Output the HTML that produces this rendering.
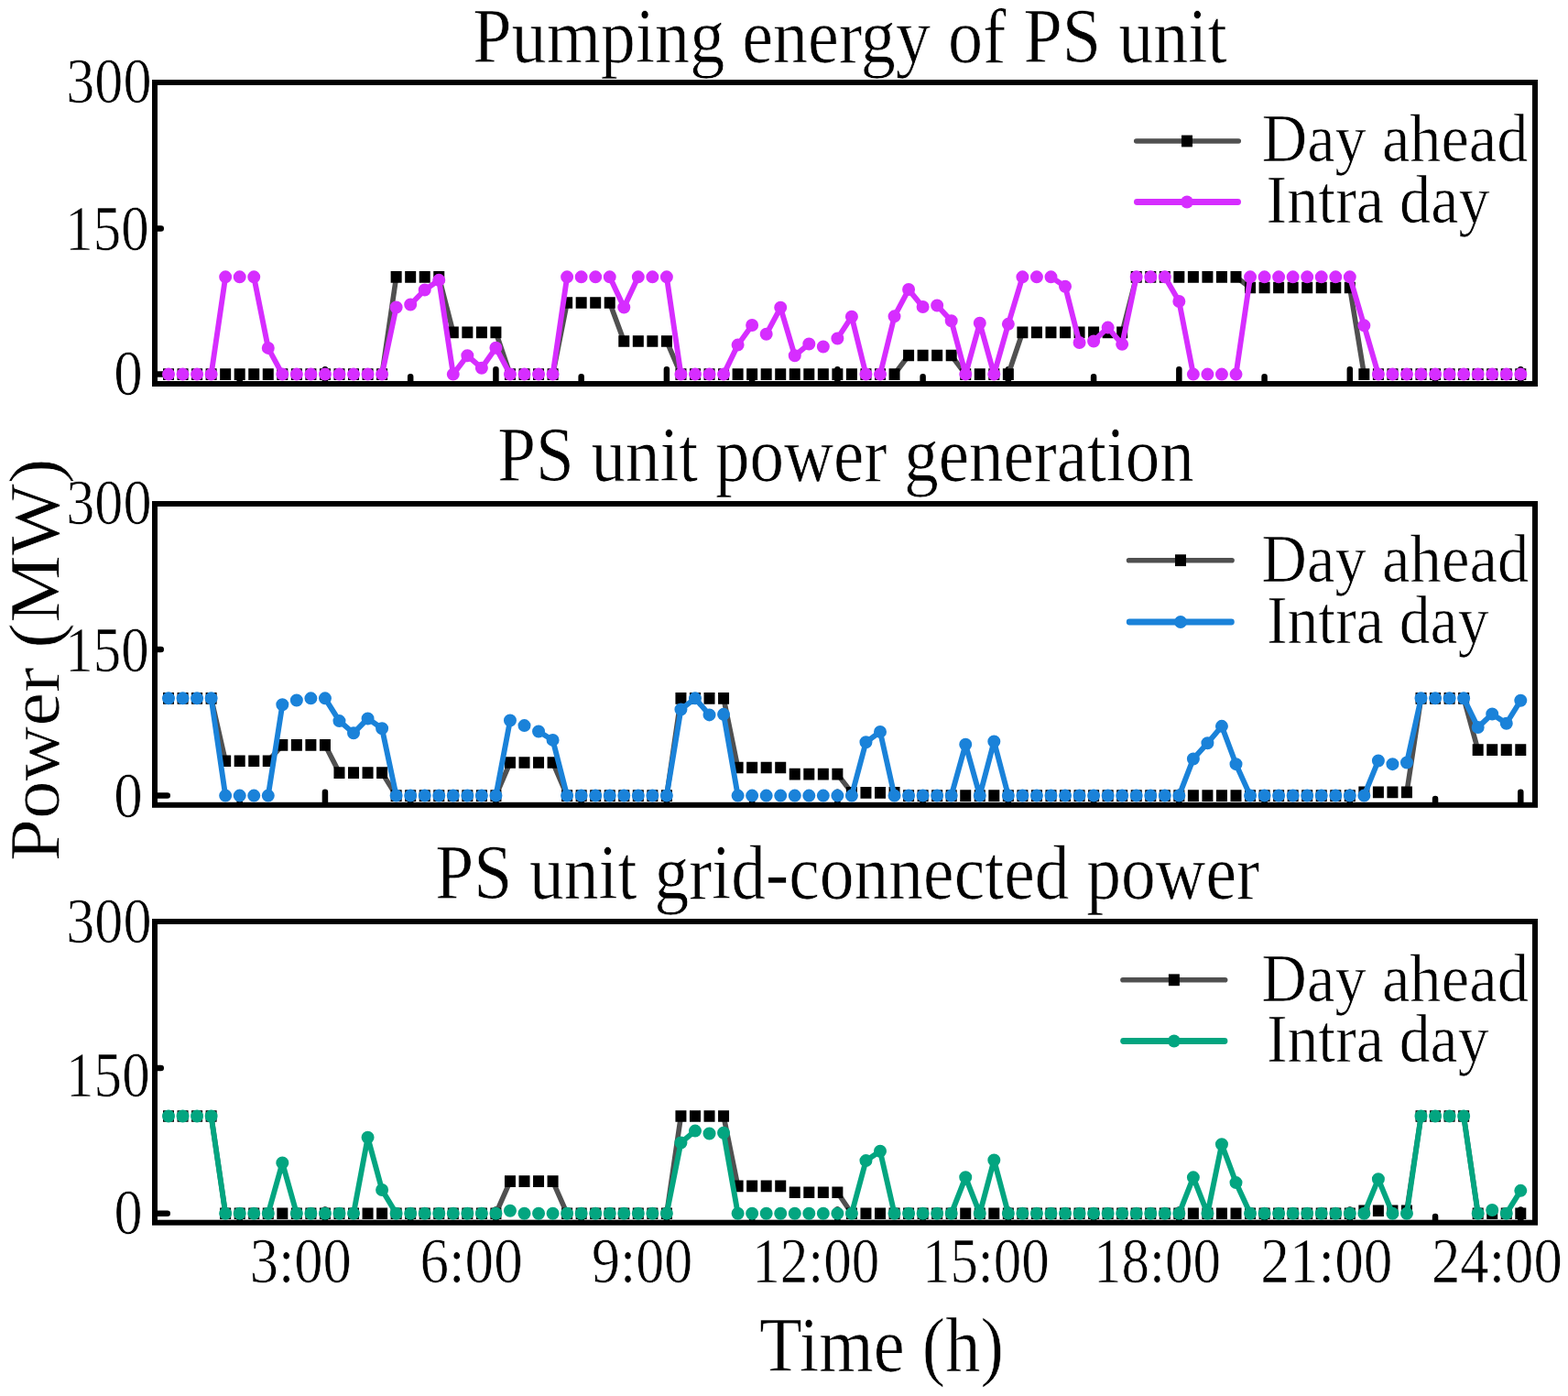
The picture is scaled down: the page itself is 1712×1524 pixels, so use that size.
<!DOCTYPE html>
<html><head><meta charset="utf-8"><title>PS unit power</title>
<style>html,body{margin:0;padding:0;background:#fff;}svg{display:block;}</style>
</head><body>
<svg width="1712" height="1524" viewBox="0 0 1712 1524">
<rect width="100%" height="100%" fill="#fff"/>
<style>text{stroke:#fff;stroke-width:0.7px;paint-order:fill stroke;}</style>
<g font-family="&quot;Liberation Serif&quot;, &quot;Times New Roman&quot;, serif" fill="#000">
<text transform="translate(516.22,67.80) scale(0.9065,1)" font-size="84">Pumping energy of PS unit</text>
<text transform="translate(72.27,112.35) scale(0.8881,1)" font-size="70">300</text>
<text transform="translate(71.29,273.25) scale(0.8702,1)" font-size="70">150</text>
<text transform="translate(124.26,431.35) scale(0.8996,1)" font-size="70">0</text>
<rect x="169" y="90" width="1507" height="329.00" fill="none" stroke="#000" stroke-width="6"/>
<path d="M170 408.60H182.75M170 249.40H175.75M261.70 416.00V411.25M354.94 416.00V403.25M448.18 416.00V411.25M541.42 416.00V403.25M634.66 416.00V411.25M727.90 416.00V403.25M821.14 416.00V411.25M914.38 416.00V403.25M1007.62 416.00V411.25M1100.86 416.00V403.25M1194.10 416.00V411.25M1287.34 416.00V403.25M1380.58 416.00V411.25M1473.82 416.00V403.25M1567.06 416.00V411.25M1660.30 416.00V403.25" stroke="#000" stroke-width="6.5" stroke-linecap="round" fill="none"/>
<path d="M417.10 408.60L432.64 302.33M479.26 302.33L494.80 362.90M541.42 362.90L556.96 408.60M603.58 408.60L619.12 330.49M665.74 330.49L681.28 372.47M727.90 372.47L743.44 408.60M976.54 408.60L992.08 387.98M1038.70 387.98L1054.24 408.60M1100.86 408.60L1116.40 362.90M1225.18 362.90L1240.72 302.33M1349.50 302.33L1365.04 314.02M1473.82 314.02L1489.36 408.60" stroke="#505050" stroke-width="5.6" fill="none"/>
<path d="M178.00 402.30h12.0v12.6h-12.0zM193.54 402.30h12.0v12.6h-12.0zM209.08 402.30h12.0v12.6h-12.0zM224.62 402.30h12.0v12.6h-12.0zM240.16 402.30h12.0v12.6h-12.0zM255.70 402.30h12.0v12.6h-12.0zM271.24 402.30h12.0v12.6h-12.0zM286.78 402.30h12.0v12.6h-12.0zM302.32 402.30h12.0v12.6h-12.0zM317.86 402.30h12.0v12.6h-12.0zM333.40 402.30h12.0v12.6h-12.0zM348.94 402.30h12.0v12.6h-12.0zM364.48 402.30h12.0v12.6h-12.0zM380.02 402.30h12.0v12.6h-12.0zM395.56 402.30h12.0v12.6h-12.0zM411.10 402.30h12.0v12.6h-12.0zM426.64 296.03h12.0v12.6h-12.0zM442.18 296.03h12.0v12.6h-12.0zM457.72 296.03h12.0v12.6h-12.0zM473.26 296.03h12.0v12.6h-12.0zM488.80 356.60h12.0v12.6h-12.0zM504.34 356.60h12.0v12.6h-12.0zM519.88 356.60h12.0v12.6h-12.0zM535.42 356.60h12.0v12.6h-12.0zM550.96 402.30h12.0v12.6h-12.0zM566.50 402.30h12.0v12.6h-12.0zM582.04 402.30h12.0v12.6h-12.0zM597.58 402.30h12.0v12.6h-12.0zM613.12 324.19h12.0v12.6h-12.0zM628.66 324.19h12.0v12.6h-12.0zM644.20 324.19h12.0v12.6h-12.0zM659.74 324.19h12.0v12.6h-12.0zM675.28 366.17h12.0v12.6h-12.0zM690.82 366.17h12.0v12.6h-12.0zM706.36 366.17h12.0v12.6h-12.0zM721.90 366.17h12.0v12.6h-12.0zM737.44 402.30h12.0v12.6h-12.0zM752.98 402.30h12.0v12.6h-12.0zM768.52 402.30h12.0v12.6h-12.0zM784.06 402.30h12.0v12.6h-12.0zM799.60 402.30h12.0v12.6h-12.0zM815.14 402.30h12.0v12.6h-12.0zM830.68 402.30h12.0v12.6h-12.0zM846.22 402.30h12.0v12.6h-12.0zM861.76 402.30h12.0v12.6h-12.0zM877.30 402.30h12.0v12.6h-12.0zM892.84 402.30h12.0v12.6h-12.0zM908.38 402.30h12.0v12.6h-12.0zM923.92 402.30h12.0v12.6h-12.0zM939.46 402.30h12.0v12.6h-12.0zM955.00 402.30h12.0v12.6h-12.0zM970.54 402.30h12.0v12.6h-12.0zM986.08 381.68h12.0v12.6h-12.0zM1001.62 381.68h12.0v12.6h-12.0zM1017.16 381.68h12.0v12.6h-12.0zM1032.70 381.68h12.0v12.6h-12.0zM1048.24 402.30h12.0v12.6h-12.0zM1063.78 402.30h12.0v12.6h-12.0zM1079.32 402.30h12.0v12.6h-12.0zM1094.86 402.30h12.0v12.6h-12.0zM1110.40 356.60h12.0v12.6h-12.0zM1125.94 356.60h12.0v12.6h-12.0zM1141.48 356.60h12.0v12.6h-12.0zM1157.02 356.60h12.0v12.6h-12.0zM1172.56 356.60h12.0v12.6h-12.0zM1188.10 356.60h12.0v12.6h-12.0zM1203.64 356.60h12.0v12.6h-12.0zM1219.18 356.60h12.0v12.6h-12.0zM1234.72 296.03h12.0v12.6h-12.0zM1250.26 296.03h12.0v12.6h-12.0zM1265.80 296.03h12.0v12.6h-12.0zM1281.34 296.03h12.0v12.6h-12.0zM1296.88 296.03h12.0v12.6h-12.0zM1312.42 296.03h12.0v12.6h-12.0zM1327.96 296.03h12.0v12.6h-12.0zM1343.50 296.03h12.0v12.6h-12.0zM1359.04 307.72h12.0v12.6h-12.0zM1374.58 307.72h12.0v12.6h-12.0zM1390.12 307.72h12.0v12.6h-12.0zM1405.66 307.72h12.0v12.6h-12.0zM1421.20 307.72h12.0v12.6h-12.0zM1436.74 307.72h12.0v12.6h-12.0zM1452.28 307.72h12.0v12.6h-12.0zM1467.82 307.72h12.0v12.6h-12.0zM1483.36 402.30h12.0v12.6h-12.0zM1498.90 402.30h12.0v12.6h-12.0zM1514.44 402.30h12.0v12.6h-12.0zM1529.98 402.30h12.0v12.6h-12.0zM1545.52 402.30h12.0v12.6h-12.0zM1561.06 402.30h12.0v12.6h-12.0zM1576.60 402.30h12.0v12.6h-12.0zM1592.14 402.30h12.0v12.6h-12.0zM1607.68 402.30h12.0v12.6h-12.0zM1623.22 402.30h12.0v12.6h-12.0zM1638.76 402.30h12.0v12.6h-12.0zM1654.30 402.30h12.0v12.6h-12.0z" fill="#000"/>
<path d="M230.62 408.60L246.16 302.33M277.24 302.33L292.78 379.91M292.78 379.91L308.32 408.60M417.10 408.60L432.64 335.49M448.18 332.51L463.72 316.46M463.72 316.46L479.26 305.84M479.26 305.84L494.80 408.60M494.80 408.60L510.34 388.30M510.34 388.30L525.88 401.69M525.88 401.69L541.42 379.69M541.42 379.69L556.96 408.60M603.58 408.60L619.12 302.33M665.74 302.33L681.28 335.49M681.28 335.49L696.82 302.33M727.90 302.33L743.44 408.60M790.06 408.60L805.60 376.61M805.60 376.61L821.14 354.93M836.68 364.82L852.22 335.81M852.22 335.81L867.76 388.30M867.76 388.30L883.30 375.55M914.38 369.49L929.92 345.69M929.92 345.69L945.46 408.60M961.00 408.60L976.54 345.37M976.54 345.37L992.08 316.04M992.08 316.04L1007.62 335.06M1023.16 333.57L1038.70 350.26M1038.70 350.26L1054.24 408.60M1054.24 408.60L1069.78 352.70M1069.78 352.70L1085.32 408.60M1085.32 408.60L1100.86 353.87M1100.86 353.87L1116.40 302.33M1147.48 302.33L1163.02 312.74M1163.02 312.74L1178.56 373.96M1194.10 372.47L1209.64 357.59M1209.64 357.59L1225.18 375.87M1225.18 375.87L1240.72 302.33M1271.80 302.33L1287.34 329.00M1287.34 329.00L1302.88 408.60M1349.50 408.60L1365.04 302.33M1473.82 302.33L1489.36 355.36M1489.36 355.36L1504.90 408.60" stroke="#D62DFF" stroke-width="5.9" fill="none"/>
<path d="M177.00 408.60a7.0 7.0 0 1 0 14.0 0a7.0 7.0 0 1 0 -14.0 0zM192.54 408.60a7.0 7.0 0 1 0 14.0 0a7.0 7.0 0 1 0 -14.0 0zM208.08 408.60a7.0 7.0 0 1 0 14.0 0a7.0 7.0 0 1 0 -14.0 0zM223.62 408.60a7.0 7.0 0 1 0 14.0 0a7.0 7.0 0 1 0 -14.0 0zM239.16 302.33a7.0 7.0 0 1 0 14.0 0a7.0 7.0 0 1 0 -14.0 0zM254.70 302.33a7.0 7.0 0 1 0 14.0 0a7.0 7.0 0 1 0 -14.0 0zM270.24 302.33a7.0 7.0 0 1 0 14.0 0a7.0 7.0 0 1 0 -14.0 0zM285.78 379.91a7.0 7.0 0 1 0 14.0 0a7.0 7.0 0 1 0 -14.0 0zM301.32 408.60a7.0 7.0 0 1 0 14.0 0a7.0 7.0 0 1 0 -14.0 0zM316.86 408.60a7.0 7.0 0 1 0 14.0 0a7.0 7.0 0 1 0 -14.0 0zM332.40 408.60a7.0 7.0 0 1 0 14.0 0a7.0 7.0 0 1 0 -14.0 0zM347.94 408.60a7.0 7.0 0 1 0 14.0 0a7.0 7.0 0 1 0 -14.0 0zM363.48 408.60a7.0 7.0 0 1 0 14.0 0a7.0 7.0 0 1 0 -14.0 0zM379.02 408.60a7.0 7.0 0 1 0 14.0 0a7.0 7.0 0 1 0 -14.0 0zM394.56 408.60a7.0 7.0 0 1 0 14.0 0a7.0 7.0 0 1 0 -14.0 0zM410.10 408.60a7.0 7.0 0 1 0 14.0 0a7.0 7.0 0 1 0 -14.0 0zM425.64 335.49a7.0 7.0 0 1 0 14.0 0a7.0 7.0 0 1 0 -14.0 0zM441.18 332.51a7.0 7.0 0 1 0 14.0 0a7.0 7.0 0 1 0 -14.0 0zM456.72 316.46a7.0 7.0 0 1 0 14.0 0a7.0 7.0 0 1 0 -14.0 0zM472.26 305.84a7.0 7.0 0 1 0 14.0 0a7.0 7.0 0 1 0 -14.0 0zM487.80 408.60a7.0 7.0 0 1 0 14.0 0a7.0 7.0 0 1 0 -14.0 0zM503.34 388.30a7.0 7.0 0 1 0 14.0 0a7.0 7.0 0 1 0 -14.0 0zM518.88 401.69a7.0 7.0 0 1 0 14.0 0a7.0 7.0 0 1 0 -14.0 0zM534.42 379.69a7.0 7.0 0 1 0 14.0 0a7.0 7.0 0 1 0 -14.0 0zM549.96 408.60a7.0 7.0 0 1 0 14.0 0a7.0 7.0 0 1 0 -14.0 0zM565.50 408.60a7.0 7.0 0 1 0 14.0 0a7.0 7.0 0 1 0 -14.0 0zM581.04 408.60a7.0 7.0 0 1 0 14.0 0a7.0 7.0 0 1 0 -14.0 0zM596.58 408.60a7.0 7.0 0 1 0 14.0 0a7.0 7.0 0 1 0 -14.0 0zM612.12 302.33a7.0 7.0 0 1 0 14.0 0a7.0 7.0 0 1 0 -14.0 0zM627.66 302.33a7.0 7.0 0 1 0 14.0 0a7.0 7.0 0 1 0 -14.0 0zM643.20 302.33a7.0 7.0 0 1 0 14.0 0a7.0 7.0 0 1 0 -14.0 0zM658.74 302.33a7.0 7.0 0 1 0 14.0 0a7.0 7.0 0 1 0 -14.0 0zM674.28 335.49a7.0 7.0 0 1 0 14.0 0a7.0 7.0 0 1 0 -14.0 0zM689.82 302.33a7.0 7.0 0 1 0 14.0 0a7.0 7.0 0 1 0 -14.0 0zM705.36 302.33a7.0 7.0 0 1 0 14.0 0a7.0 7.0 0 1 0 -14.0 0zM720.90 302.33a7.0 7.0 0 1 0 14.0 0a7.0 7.0 0 1 0 -14.0 0zM736.44 408.60a7.0 7.0 0 1 0 14.0 0a7.0 7.0 0 1 0 -14.0 0zM751.98 408.60a7.0 7.0 0 1 0 14.0 0a7.0 7.0 0 1 0 -14.0 0zM767.52 408.60a7.0 7.0 0 1 0 14.0 0a7.0 7.0 0 1 0 -14.0 0zM783.06 408.60a7.0 7.0 0 1 0 14.0 0a7.0 7.0 0 1 0 -14.0 0zM798.60 376.61a7.0 7.0 0 1 0 14.0 0a7.0 7.0 0 1 0 -14.0 0zM814.14 354.93a7.0 7.0 0 1 0 14.0 0a7.0 7.0 0 1 0 -14.0 0zM829.68 364.82a7.0 7.0 0 1 0 14.0 0a7.0 7.0 0 1 0 -14.0 0zM845.22 335.81a7.0 7.0 0 1 0 14.0 0a7.0 7.0 0 1 0 -14.0 0zM860.76 388.30a7.0 7.0 0 1 0 14.0 0a7.0 7.0 0 1 0 -14.0 0zM876.30 375.55a7.0 7.0 0 1 0 14.0 0a7.0 7.0 0 1 0 -14.0 0zM891.84 378.53a7.0 7.0 0 1 0 14.0 0a7.0 7.0 0 1 0 -14.0 0zM907.38 369.49a7.0 7.0 0 1 0 14.0 0a7.0 7.0 0 1 0 -14.0 0zM922.92 345.69a7.0 7.0 0 1 0 14.0 0a7.0 7.0 0 1 0 -14.0 0zM938.46 408.60a7.0 7.0 0 1 0 14.0 0a7.0 7.0 0 1 0 -14.0 0zM954.00 408.60a7.0 7.0 0 1 0 14.0 0a7.0 7.0 0 1 0 -14.0 0zM969.54 345.37a7.0 7.0 0 1 0 14.0 0a7.0 7.0 0 1 0 -14.0 0zM985.08 316.04a7.0 7.0 0 1 0 14.0 0a7.0 7.0 0 1 0 -14.0 0zM1000.62 335.06a7.0 7.0 0 1 0 14.0 0a7.0 7.0 0 1 0 -14.0 0zM1016.16 333.57a7.0 7.0 0 1 0 14.0 0a7.0 7.0 0 1 0 -14.0 0zM1031.70 350.26a7.0 7.0 0 1 0 14.0 0a7.0 7.0 0 1 0 -14.0 0zM1047.24 408.60a7.0 7.0 0 1 0 14.0 0a7.0 7.0 0 1 0 -14.0 0zM1062.78 352.70a7.0 7.0 0 1 0 14.0 0a7.0 7.0 0 1 0 -14.0 0zM1078.32 408.60a7.0 7.0 0 1 0 14.0 0a7.0 7.0 0 1 0 -14.0 0zM1093.86 353.87a7.0 7.0 0 1 0 14.0 0a7.0 7.0 0 1 0 -14.0 0zM1109.40 302.33a7.0 7.0 0 1 0 14.0 0a7.0 7.0 0 1 0 -14.0 0zM1124.94 302.33a7.0 7.0 0 1 0 14.0 0a7.0 7.0 0 1 0 -14.0 0zM1140.48 302.33a7.0 7.0 0 1 0 14.0 0a7.0 7.0 0 1 0 -14.0 0zM1156.02 312.74a7.0 7.0 0 1 0 14.0 0a7.0 7.0 0 1 0 -14.0 0zM1171.56 373.96a7.0 7.0 0 1 0 14.0 0a7.0 7.0 0 1 0 -14.0 0zM1187.10 372.47a7.0 7.0 0 1 0 14.0 0a7.0 7.0 0 1 0 -14.0 0zM1202.64 357.59a7.0 7.0 0 1 0 14.0 0a7.0 7.0 0 1 0 -14.0 0zM1218.18 375.87a7.0 7.0 0 1 0 14.0 0a7.0 7.0 0 1 0 -14.0 0zM1233.72 302.33a7.0 7.0 0 1 0 14.0 0a7.0 7.0 0 1 0 -14.0 0zM1249.26 302.33a7.0 7.0 0 1 0 14.0 0a7.0 7.0 0 1 0 -14.0 0zM1264.80 302.33a7.0 7.0 0 1 0 14.0 0a7.0 7.0 0 1 0 -14.0 0zM1280.34 329.00a7.0 7.0 0 1 0 14.0 0a7.0 7.0 0 1 0 -14.0 0zM1295.88 408.60a7.0 7.0 0 1 0 14.0 0a7.0 7.0 0 1 0 -14.0 0zM1311.42 408.60a7.0 7.0 0 1 0 14.0 0a7.0 7.0 0 1 0 -14.0 0zM1326.96 408.60a7.0 7.0 0 1 0 14.0 0a7.0 7.0 0 1 0 -14.0 0zM1342.50 408.60a7.0 7.0 0 1 0 14.0 0a7.0 7.0 0 1 0 -14.0 0zM1358.04 302.33a7.0 7.0 0 1 0 14.0 0a7.0 7.0 0 1 0 -14.0 0zM1373.58 302.33a7.0 7.0 0 1 0 14.0 0a7.0 7.0 0 1 0 -14.0 0zM1389.12 302.33a7.0 7.0 0 1 0 14.0 0a7.0 7.0 0 1 0 -14.0 0zM1404.66 302.33a7.0 7.0 0 1 0 14.0 0a7.0 7.0 0 1 0 -14.0 0zM1420.20 302.33a7.0 7.0 0 1 0 14.0 0a7.0 7.0 0 1 0 -14.0 0zM1435.74 302.33a7.0 7.0 0 1 0 14.0 0a7.0 7.0 0 1 0 -14.0 0zM1451.28 302.33a7.0 7.0 0 1 0 14.0 0a7.0 7.0 0 1 0 -14.0 0zM1466.82 302.33a7.0 7.0 0 1 0 14.0 0a7.0 7.0 0 1 0 -14.0 0zM1482.36 355.36a7.0 7.0 0 1 0 14.0 0a7.0 7.0 0 1 0 -14.0 0zM1497.90 408.60a7.0 7.0 0 1 0 14.0 0a7.0 7.0 0 1 0 -14.0 0zM1513.44 408.60a7.0 7.0 0 1 0 14.0 0a7.0 7.0 0 1 0 -14.0 0zM1528.98 408.60a7.0 7.0 0 1 0 14.0 0a7.0 7.0 0 1 0 -14.0 0zM1544.52 408.60a7.0 7.0 0 1 0 14.0 0a7.0 7.0 0 1 0 -14.0 0zM1560.06 408.60a7.0 7.0 0 1 0 14.0 0a7.0 7.0 0 1 0 -14.0 0zM1575.60 408.60a7.0 7.0 0 1 0 14.0 0a7.0 7.0 0 1 0 -14.0 0zM1591.14 408.60a7.0 7.0 0 1 0 14.0 0a7.0 7.0 0 1 0 -14.0 0zM1606.68 408.60a7.0 7.0 0 1 0 14.0 0a7.0 7.0 0 1 0 -14.0 0zM1622.22 408.60a7.0 7.0 0 1 0 14.0 0a7.0 7.0 0 1 0 -14.0 0zM1637.76 408.60a7.0 7.0 0 1 0 14.0 0a7.0 7.0 0 1 0 -14.0 0zM1653.30 408.60a7.0 7.0 0 1 0 14.0 0a7.0 7.0 0 1 0 -14.0 0z" fill="#D62DFF"/>
<path d="M1240.75 154H1352.25" stroke="#505050" stroke-width="5.6" stroke-linecap="round"/>
<rect x="1290.00" y="147.60" width="12" height="12.8" fill="#000"/>
<path d="M1241.40 220.5H1351.60" stroke="#D62DFF" stroke-width="6.8" stroke-linecap="round"/>
<circle cx="1296.00" cy="220.5" r="6.9" fill="#D62DFF"/>
<text transform="translate(1377.73,175.90) scale(0.9379,1)" font-size="73">Day ahead</text>
<text transform="translate(1382.50,243.00) scale(0.9332,1)" font-size="73">Intra day</text>
<text transform="translate(543.25,524.80) scale(0.8934,1)" font-size="84">PS unit power generation</text>
<text transform="translate(72.27,572.35) scale(0.8881,1)" font-size="70">300</text>
<text transform="translate(71.29,732.55) scale(0.8702,1)" font-size="70">150</text>
<text transform="translate(124.26,891.65) scale(0.8996,1)" font-size="70">0</text>
<rect x="169" y="550" width="1507" height="328.80" fill="none" stroke="#000" stroke-width="6"/>
<path d="M170 868.60H182.75M170 709.00H175.75M261.70 875.80V872.05M354.94 875.80V864.65M448.18 875.80V872.05M541.42 875.80V864.65M634.66 875.80V872.05M727.90 875.80V864.65M821.14 875.80V872.05M914.38 875.80V864.65M1007.62 875.80V872.05M1100.86 875.80V864.65M1194.10 875.80V872.05M1287.34 875.80V864.65M1380.58 875.80V872.05M1473.82 875.80V864.65M1567.06 875.80V872.05M1660.30 875.80V864.65" stroke="#000" stroke-width="6.5" stroke-linecap="round" fill="none"/>
<path d="M230.62 762.33L246.16 830.77M292.78 830.77L308.32 813.34M354.94 813.34L370.48 843.63M417.10 843.63L432.64 868.60M541.42 868.60L556.96 832.47M603.58 832.47L619.12 868.60M727.90 868.60L743.44 762.33M790.06 762.33L805.60 837.99M914.38 845.11L929.92 865.41M1535.98 864.88L1551.52 762.33M1598.14 762.33L1613.68 818.65" stroke="#505050" stroke-width="5.6" fill="none"/>
<path d="M178.00 756.03h12.0v12.6h-12.0zM193.54 756.03h12.0v12.6h-12.0zM209.08 756.03h12.0v12.6h-12.0zM224.62 756.03h12.0v12.6h-12.0zM240.16 824.47h12.0v12.6h-12.0zM255.70 824.47h12.0v12.6h-12.0zM271.24 824.47h12.0v12.6h-12.0zM286.78 824.47h12.0v12.6h-12.0zM302.32 807.04h12.0v12.6h-12.0zM317.86 807.04h12.0v12.6h-12.0zM333.40 807.04h12.0v12.6h-12.0zM348.94 807.04h12.0v12.6h-12.0zM364.48 837.33h12.0v12.6h-12.0zM380.02 837.33h12.0v12.6h-12.0zM395.56 837.33h12.0v12.6h-12.0zM411.10 837.33h12.0v12.6h-12.0zM426.64 862.30h12.0v12.6h-12.0zM442.18 862.30h12.0v12.6h-12.0zM457.72 862.30h12.0v12.6h-12.0zM473.26 862.30h12.0v12.6h-12.0zM488.80 862.30h12.0v12.6h-12.0zM504.34 862.30h12.0v12.6h-12.0zM519.88 862.30h12.0v12.6h-12.0zM535.42 862.30h12.0v12.6h-12.0zM550.96 826.17h12.0v12.6h-12.0zM566.50 826.17h12.0v12.6h-12.0zM582.04 826.17h12.0v12.6h-12.0zM597.58 826.17h12.0v12.6h-12.0zM613.12 862.30h12.0v12.6h-12.0zM628.66 862.30h12.0v12.6h-12.0zM644.20 862.30h12.0v12.6h-12.0zM659.74 862.30h12.0v12.6h-12.0zM675.28 862.30h12.0v12.6h-12.0zM690.82 862.30h12.0v12.6h-12.0zM706.36 862.30h12.0v12.6h-12.0zM721.90 862.30h12.0v12.6h-12.0zM737.44 756.03h12.0v12.6h-12.0zM752.98 756.03h12.0v12.6h-12.0zM768.52 756.03h12.0v12.6h-12.0zM784.06 756.03h12.0v12.6h-12.0zM799.60 831.69h12.0v12.6h-12.0zM815.14 831.69h12.0v12.6h-12.0zM830.68 831.69h12.0v12.6h-12.0zM846.22 831.69h12.0v12.6h-12.0zM861.76 838.81h12.0v12.6h-12.0zM877.30 838.81h12.0v12.6h-12.0zM892.84 838.81h12.0v12.6h-12.0zM908.38 838.81h12.0v12.6h-12.0zM923.92 859.11h12.0v12.6h-12.0zM939.46 859.11h12.0v12.6h-12.0zM955.00 859.11h12.0v12.6h-12.0zM970.54 859.11h12.0v12.6h-12.0zM986.08 862.30h12.0v12.6h-12.0zM1001.62 862.30h12.0v12.6h-12.0zM1017.16 862.30h12.0v12.6h-12.0zM1032.70 862.30h12.0v12.6h-12.0zM1048.24 862.30h12.0v12.6h-12.0zM1063.78 862.30h12.0v12.6h-12.0zM1079.32 862.30h12.0v12.6h-12.0zM1094.86 862.30h12.0v12.6h-12.0zM1110.40 862.30h12.0v12.6h-12.0zM1125.94 862.30h12.0v12.6h-12.0zM1141.48 862.30h12.0v12.6h-12.0zM1157.02 862.30h12.0v12.6h-12.0zM1172.56 862.30h12.0v12.6h-12.0zM1188.10 862.30h12.0v12.6h-12.0zM1203.64 862.30h12.0v12.6h-12.0zM1219.18 862.30h12.0v12.6h-12.0zM1234.72 862.30h12.0v12.6h-12.0zM1250.26 862.30h12.0v12.6h-12.0zM1265.80 862.30h12.0v12.6h-12.0zM1281.34 862.30h12.0v12.6h-12.0zM1296.88 862.30h12.0v12.6h-12.0zM1312.42 862.30h12.0v12.6h-12.0zM1327.96 862.30h12.0v12.6h-12.0zM1343.50 862.30h12.0v12.6h-12.0zM1359.04 862.30h12.0v12.6h-12.0zM1374.58 862.30h12.0v12.6h-12.0zM1390.12 862.30h12.0v12.6h-12.0zM1405.66 862.30h12.0v12.6h-12.0zM1421.20 862.30h12.0v12.6h-12.0zM1436.74 862.30h12.0v12.6h-12.0zM1452.28 862.30h12.0v12.6h-12.0zM1467.82 862.30h12.0v12.6h-12.0zM1483.36 858.58h12.0v12.6h-12.0zM1498.90 858.58h12.0v12.6h-12.0zM1514.44 858.58h12.0v12.6h-12.0zM1529.98 858.58h12.0v12.6h-12.0zM1545.52 756.03h12.0v12.6h-12.0zM1561.06 756.03h12.0v12.6h-12.0zM1576.60 756.03h12.0v12.6h-12.0zM1592.14 756.03h12.0v12.6h-12.0zM1607.68 812.35h12.0v12.6h-12.0zM1623.22 812.35h12.0v12.6h-12.0zM1638.76 812.35h12.0v12.6h-12.0zM1654.30 812.35h12.0v12.6h-12.0z" fill="#000"/>
<path d="M230.62 762.33L246.16 868.60M292.78 868.60L308.32 769.24M354.94 762.33L370.48 787.09M370.48 787.09L386.02 800.37M386.02 800.37L401.56 784.43M401.56 784.43L417.10 795.27M417.10 795.27L432.64 868.60M541.42 868.60L556.96 786.45M588.04 798.57L603.58 807.92M603.58 807.92L619.12 868.60M727.90 868.60L743.44 774.55M743.44 774.55L758.98 762.33M758.98 762.33L774.52 780.40M790.06 779.86L805.60 868.60M929.92 868.60L945.46 810.26M945.46 810.26L961.00 798.89M961.00 798.89L976.54 868.60M1038.70 868.60L1054.24 812.81M1054.24 812.81L1069.78 868.60M1069.78 868.60L1085.32 809.51M1085.32 809.51L1100.86 868.60M1287.34 868.60L1302.88 828.43M1302.88 828.43L1318.42 811.32M1318.42 811.32L1333.96 792.83M1333.96 792.83L1349.50 834.17M1349.50 834.17L1365.04 868.60M1489.36 868.60L1504.90 830.45M1535.98 832.57L1551.52 762.33M1598.14 762.33L1613.68 794.00M1613.68 794.00L1629.22 779.44M1629.22 779.44L1644.76 789.75M1644.76 789.75L1660.30 764.77" stroke="#1A82D9" stroke-width="5.9" fill="none"/>
<path d="M177.00 762.33a7.0 7.0 0 1 0 14.0 0a7.0 7.0 0 1 0 -14.0 0zM192.54 762.33a7.0 7.0 0 1 0 14.0 0a7.0 7.0 0 1 0 -14.0 0zM208.08 762.33a7.0 7.0 0 1 0 14.0 0a7.0 7.0 0 1 0 -14.0 0zM223.62 762.33a7.0 7.0 0 1 0 14.0 0a7.0 7.0 0 1 0 -14.0 0zM239.16 868.60a7.0 7.0 0 1 0 14.0 0a7.0 7.0 0 1 0 -14.0 0zM254.70 868.60a7.0 7.0 0 1 0 14.0 0a7.0 7.0 0 1 0 -14.0 0zM270.24 868.60a7.0 7.0 0 1 0 14.0 0a7.0 7.0 0 1 0 -14.0 0zM285.78 868.60a7.0 7.0 0 1 0 14.0 0a7.0 7.0 0 1 0 -14.0 0zM301.32 769.24a7.0 7.0 0 1 0 14.0 0a7.0 7.0 0 1 0 -14.0 0zM316.86 764.46a7.0 7.0 0 1 0 14.0 0a7.0 7.0 0 1 0 -14.0 0zM332.40 762.33a7.0 7.0 0 1 0 14.0 0a7.0 7.0 0 1 0 -14.0 0zM347.94 762.33a7.0 7.0 0 1 0 14.0 0a7.0 7.0 0 1 0 -14.0 0zM363.48 787.09a7.0 7.0 0 1 0 14.0 0a7.0 7.0 0 1 0 -14.0 0zM379.02 800.37a7.0 7.0 0 1 0 14.0 0a7.0 7.0 0 1 0 -14.0 0zM394.56 784.43a7.0 7.0 0 1 0 14.0 0a7.0 7.0 0 1 0 -14.0 0zM410.10 795.27a7.0 7.0 0 1 0 14.0 0a7.0 7.0 0 1 0 -14.0 0zM425.64 868.60a7.0 7.0 0 1 0 14.0 0a7.0 7.0 0 1 0 -14.0 0zM441.18 868.60a7.0 7.0 0 1 0 14.0 0a7.0 7.0 0 1 0 -14.0 0zM456.72 868.60a7.0 7.0 0 1 0 14.0 0a7.0 7.0 0 1 0 -14.0 0zM472.26 868.60a7.0 7.0 0 1 0 14.0 0a7.0 7.0 0 1 0 -14.0 0zM487.80 868.60a7.0 7.0 0 1 0 14.0 0a7.0 7.0 0 1 0 -14.0 0zM503.34 868.60a7.0 7.0 0 1 0 14.0 0a7.0 7.0 0 1 0 -14.0 0zM518.88 868.60a7.0 7.0 0 1 0 14.0 0a7.0 7.0 0 1 0 -14.0 0zM534.42 868.60a7.0 7.0 0 1 0 14.0 0a7.0 7.0 0 1 0 -14.0 0zM549.96 786.45a7.0 7.0 0 1 0 14.0 0a7.0 7.0 0 1 0 -14.0 0zM565.50 792.09a7.0 7.0 0 1 0 14.0 0a7.0 7.0 0 1 0 -14.0 0zM581.04 798.57a7.0 7.0 0 1 0 14.0 0a7.0 7.0 0 1 0 -14.0 0zM596.58 807.92a7.0 7.0 0 1 0 14.0 0a7.0 7.0 0 1 0 -14.0 0zM612.12 868.60a7.0 7.0 0 1 0 14.0 0a7.0 7.0 0 1 0 -14.0 0zM627.66 868.60a7.0 7.0 0 1 0 14.0 0a7.0 7.0 0 1 0 -14.0 0zM643.20 868.60a7.0 7.0 0 1 0 14.0 0a7.0 7.0 0 1 0 -14.0 0zM658.74 868.60a7.0 7.0 0 1 0 14.0 0a7.0 7.0 0 1 0 -14.0 0zM674.28 868.60a7.0 7.0 0 1 0 14.0 0a7.0 7.0 0 1 0 -14.0 0zM689.82 868.60a7.0 7.0 0 1 0 14.0 0a7.0 7.0 0 1 0 -14.0 0zM705.36 868.60a7.0 7.0 0 1 0 14.0 0a7.0 7.0 0 1 0 -14.0 0zM720.90 868.60a7.0 7.0 0 1 0 14.0 0a7.0 7.0 0 1 0 -14.0 0zM736.44 774.55a7.0 7.0 0 1 0 14.0 0a7.0 7.0 0 1 0 -14.0 0zM751.98 762.33a7.0 7.0 0 1 0 14.0 0a7.0 7.0 0 1 0 -14.0 0zM767.52 780.40a7.0 7.0 0 1 0 14.0 0a7.0 7.0 0 1 0 -14.0 0zM783.06 779.86a7.0 7.0 0 1 0 14.0 0a7.0 7.0 0 1 0 -14.0 0zM798.60 868.60a7.0 7.0 0 1 0 14.0 0a7.0 7.0 0 1 0 -14.0 0zM814.14 868.60a7.0 7.0 0 1 0 14.0 0a7.0 7.0 0 1 0 -14.0 0zM829.68 868.60a7.0 7.0 0 1 0 14.0 0a7.0 7.0 0 1 0 -14.0 0zM845.22 868.60a7.0 7.0 0 1 0 14.0 0a7.0 7.0 0 1 0 -14.0 0zM860.76 868.60a7.0 7.0 0 1 0 14.0 0a7.0 7.0 0 1 0 -14.0 0zM876.30 868.60a7.0 7.0 0 1 0 14.0 0a7.0 7.0 0 1 0 -14.0 0zM891.84 868.60a7.0 7.0 0 1 0 14.0 0a7.0 7.0 0 1 0 -14.0 0zM907.38 868.60a7.0 7.0 0 1 0 14.0 0a7.0 7.0 0 1 0 -14.0 0zM922.92 868.60a7.0 7.0 0 1 0 14.0 0a7.0 7.0 0 1 0 -14.0 0zM938.46 810.26a7.0 7.0 0 1 0 14.0 0a7.0 7.0 0 1 0 -14.0 0zM954.00 798.89a7.0 7.0 0 1 0 14.0 0a7.0 7.0 0 1 0 -14.0 0zM969.54 868.60a7.0 7.0 0 1 0 14.0 0a7.0 7.0 0 1 0 -14.0 0zM985.08 868.60a7.0 7.0 0 1 0 14.0 0a7.0 7.0 0 1 0 -14.0 0zM1000.62 868.60a7.0 7.0 0 1 0 14.0 0a7.0 7.0 0 1 0 -14.0 0zM1016.16 868.60a7.0 7.0 0 1 0 14.0 0a7.0 7.0 0 1 0 -14.0 0zM1031.70 868.60a7.0 7.0 0 1 0 14.0 0a7.0 7.0 0 1 0 -14.0 0zM1047.24 812.81a7.0 7.0 0 1 0 14.0 0a7.0 7.0 0 1 0 -14.0 0zM1062.78 868.60a7.0 7.0 0 1 0 14.0 0a7.0 7.0 0 1 0 -14.0 0zM1078.32 809.51a7.0 7.0 0 1 0 14.0 0a7.0 7.0 0 1 0 -14.0 0zM1093.86 868.60a7.0 7.0 0 1 0 14.0 0a7.0 7.0 0 1 0 -14.0 0zM1109.40 868.60a7.0 7.0 0 1 0 14.0 0a7.0 7.0 0 1 0 -14.0 0zM1124.94 868.60a7.0 7.0 0 1 0 14.0 0a7.0 7.0 0 1 0 -14.0 0zM1140.48 868.60a7.0 7.0 0 1 0 14.0 0a7.0 7.0 0 1 0 -14.0 0zM1156.02 868.60a7.0 7.0 0 1 0 14.0 0a7.0 7.0 0 1 0 -14.0 0zM1171.56 868.60a7.0 7.0 0 1 0 14.0 0a7.0 7.0 0 1 0 -14.0 0zM1187.10 868.60a7.0 7.0 0 1 0 14.0 0a7.0 7.0 0 1 0 -14.0 0zM1202.64 868.60a7.0 7.0 0 1 0 14.0 0a7.0 7.0 0 1 0 -14.0 0zM1218.18 868.60a7.0 7.0 0 1 0 14.0 0a7.0 7.0 0 1 0 -14.0 0zM1233.72 868.60a7.0 7.0 0 1 0 14.0 0a7.0 7.0 0 1 0 -14.0 0zM1249.26 868.60a7.0 7.0 0 1 0 14.0 0a7.0 7.0 0 1 0 -14.0 0zM1264.80 868.60a7.0 7.0 0 1 0 14.0 0a7.0 7.0 0 1 0 -14.0 0zM1280.34 868.60a7.0 7.0 0 1 0 14.0 0a7.0 7.0 0 1 0 -14.0 0zM1295.88 828.43a7.0 7.0 0 1 0 14.0 0a7.0 7.0 0 1 0 -14.0 0zM1311.42 811.32a7.0 7.0 0 1 0 14.0 0a7.0 7.0 0 1 0 -14.0 0zM1326.96 792.83a7.0 7.0 0 1 0 14.0 0a7.0 7.0 0 1 0 -14.0 0zM1342.50 834.17a7.0 7.0 0 1 0 14.0 0a7.0 7.0 0 1 0 -14.0 0zM1358.04 868.60a7.0 7.0 0 1 0 14.0 0a7.0 7.0 0 1 0 -14.0 0zM1373.58 868.60a7.0 7.0 0 1 0 14.0 0a7.0 7.0 0 1 0 -14.0 0zM1389.12 868.60a7.0 7.0 0 1 0 14.0 0a7.0 7.0 0 1 0 -14.0 0zM1404.66 868.60a7.0 7.0 0 1 0 14.0 0a7.0 7.0 0 1 0 -14.0 0zM1420.20 868.60a7.0 7.0 0 1 0 14.0 0a7.0 7.0 0 1 0 -14.0 0zM1435.74 868.60a7.0 7.0 0 1 0 14.0 0a7.0 7.0 0 1 0 -14.0 0zM1451.28 868.60a7.0 7.0 0 1 0 14.0 0a7.0 7.0 0 1 0 -14.0 0zM1466.82 868.60a7.0 7.0 0 1 0 14.0 0a7.0 7.0 0 1 0 -14.0 0zM1482.36 868.60a7.0 7.0 0 1 0 14.0 0a7.0 7.0 0 1 0 -14.0 0zM1497.90 830.45a7.0 7.0 0 1 0 14.0 0a7.0 7.0 0 1 0 -14.0 0zM1513.44 834.17a7.0 7.0 0 1 0 14.0 0a7.0 7.0 0 1 0 -14.0 0zM1528.98 832.57a7.0 7.0 0 1 0 14.0 0a7.0 7.0 0 1 0 -14.0 0zM1544.52 762.33a7.0 7.0 0 1 0 14.0 0a7.0 7.0 0 1 0 -14.0 0zM1560.06 762.33a7.0 7.0 0 1 0 14.0 0a7.0 7.0 0 1 0 -14.0 0zM1575.60 762.33a7.0 7.0 0 1 0 14.0 0a7.0 7.0 0 1 0 -14.0 0zM1591.14 762.33a7.0 7.0 0 1 0 14.0 0a7.0 7.0 0 1 0 -14.0 0zM1606.68 794.00a7.0 7.0 0 1 0 14.0 0a7.0 7.0 0 1 0 -14.0 0zM1622.22 779.44a7.0 7.0 0 1 0 14.0 0a7.0 7.0 0 1 0 -14.0 0zM1637.76 789.75a7.0 7.0 0 1 0 14.0 0a7.0 7.0 0 1 0 -14.0 0zM1653.30 764.77a7.0 7.0 0 1 0 14.0 0a7.0 7.0 0 1 0 -14.0 0z" fill="#1A82D9"/>
<path d="M1232.55 611.7H1345.05" stroke="#505050" stroke-width="5.6" stroke-linecap="round"/>
<rect x="1283.00" y="605.30" width="12" height="12.8" fill="#000"/>
<path d="M1233.20 679H1344.40" stroke="#1A82D9" stroke-width="6.8" stroke-linecap="round"/>
<circle cx="1289.00" cy="679" r="6.9" fill="#1A82D9"/>
<text transform="translate(1377.32,635.10) scale(0.9424,1)" font-size="73">Day ahead</text>
<text transform="translate(1382.91,701.80) scale(0.9282,1)" font-size="73">Intra day</text>
<text transform="translate(475.13,981.40) scale(0.8994,1)" font-size="84">PS unit grid-connected power</text>
<text transform="translate(72.27,1029.45) scale(0.8881,1)" font-size="70">300</text>
<text transform="translate(72.08,1196.55) scale(0.8723,1)" font-size="70">150</text>
<text transform="translate(124.38,1347.45) scale(0.8895,1)" font-size="70">0</text>
<rect x="169" y="1006" width="1507" height="328.70" fill="none" stroke="#000" stroke-width="6"/>
<path d="M170 1324.80H182.75M170 1166.00H175.75M261.70 1331.70V1327.95M354.94 1331.70V1320.45M448.18 1331.70V1327.95M541.42 1331.70V1320.45M634.66 1331.70V1327.95M727.90 1331.70V1320.45M821.14 1331.70V1327.95M914.38 1331.70V1320.45M1007.62 1331.70V1327.95M1100.86 1331.70V1320.45M1194.10 1331.70V1327.95M1287.34 1331.70V1320.45M1380.58 1331.70V1327.95M1473.82 1331.70V1320.45M1567.06 1331.70V1327.95M1660.30 1331.70V1320.45" stroke="#000" stroke-width="6.5" stroke-linecap="round" fill="none"/>
<path d="M230.62 1218.53L246.16 1324.80M541.42 1324.80L556.96 1289.62M603.58 1289.62L619.12 1324.80M727.90 1324.80L743.44 1218.53M790.06 1218.53L805.60 1294.83M914.38 1301.74L929.92 1324.80M1535.98 1321.82L1551.52 1218.53M1598.14 1218.53L1613.68 1324.80" stroke="#505050" stroke-width="5.6" fill="none"/>
<path d="M178.00 1212.23h12.0v12.6h-12.0zM193.54 1212.23h12.0v12.6h-12.0zM209.08 1212.23h12.0v12.6h-12.0zM224.62 1212.23h12.0v12.6h-12.0zM240.16 1318.50h12.0v12.6h-12.0zM255.70 1318.50h12.0v12.6h-12.0zM271.24 1318.50h12.0v12.6h-12.0zM286.78 1318.50h12.0v12.6h-12.0zM302.32 1318.50h12.0v12.6h-12.0zM317.86 1318.50h12.0v12.6h-12.0zM333.40 1318.50h12.0v12.6h-12.0zM348.94 1318.50h12.0v12.6h-12.0zM364.48 1318.50h12.0v12.6h-12.0zM380.02 1318.50h12.0v12.6h-12.0zM395.56 1318.50h12.0v12.6h-12.0zM411.10 1318.50h12.0v12.6h-12.0zM426.64 1318.50h12.0v12.6h-12.0zM442.18 1318.50h12.0v12.6h-12.0zM457.72 1318.50h12.0v12.6h-12.0zM473.26 1318.50h12.0v12.6h-12.0zM488.80 1318.50h12.0v12.6h-12.0zM504.34 1318.50h12.0v12.6h-12.0zM519.88 1318.50h12.0v12.6h-12.0zM535.42 1318.50h12.0v12.6h-12.0zM550.96 1283.32h12.0v12.6h-12.0zM566.50 1283.32h12.0v12.6h-12.0zM582.04 1283.32h12.0v12.6h-12.0zM597.58 1283.32h12.0v12.6h-12.0zM613.12 1318.50h12.0v12.6h-12.0zM628.66 1318.50h12.0v12.6h-12.0zM644.20 1318.50h12.0v12.6h-12.0zM659.74 1318.50h12.0v12.6h-12.0zM675.28 1318.50h12.0v12.6h-12.0zM690.82 1318.50h12.0v12.6h-12.0zM706.36 1318.50h12.0v12.6h-12.0zM721.90 1318.50h12.0v12.6h-12.0zM737.44 1212.23h12.0v12.6h-12.0zM752.98 1212.23h12.0v12.6h-12.0zM768.52 1212.23h12.0v12.6h-12.0zM784.06 1212.23h12.0v12.6h-12.0zM799.60 1288.53h12.0v12.6h-12.0zM815.14 1288.53h12.0v12.6h-12.0zM830.68 1288.53h12.0v12.6h-12.0zM846.22 1288.53h12.0v12.6h-12.0zM861.76 1295.44h12.0v12.6h-12.0zM877.30 1295.44h12.0v12.6h-12.0zM892.84 1295.44h12.0v12.6h-12.0zM908.38 1295.44h12.0v12.6h-12.0zM923.92 1318.50h12.0v12.6h-12.0zM939.46 1318.50h12.0v12.6h-12.0zM955.00 1318.50h12.0v12.6h-12.0zM970.54 1318.50h12.0v12.6h-12.0zM986.08 1318.50h12.0v12.6h-12.0zM1001.62 1318.50h12.0v12.6h-12.0zM1017.16 1318.50h12.0v12.6h-12.0zM1032.70 1318.50h12.0v12.6h-12.0zM1048.24 1318.50h12.0v12.6h-12.0zM1063.78 1318.50h12.0v12.6h-12.0zM1079.32 1318.50h12.0v12.6h-12.0zM1094.86 1318.50h12.0v12.6h-12.0zM1110.40 1318.50h12.0v12.6h-12.0zM1125.94 1318.50h12.0v12.6h-12.0zM1141.48 1318.50h12.0v12.6h-12.0zM1157.02 1318.50h12.0v12.6h-12.0zM1172.56 1318.50h12.0v12.6h-12.0zM1188.10 1318.50h12.0v12.6h-12.0zM1203.64 1318.50h12.0v12.6h-12.0zM1219.18 1318.50h12.0v12.6h-12.0zM1234.72 1318.50h12.0v12.6h-12.0zM1250.26 1318.50h12.0v12.6h-12.0zM1265.80 1318.50h12.0v12.6h-12.0zM1281.34 1318.50h12.0v12.6h-12.0zM1296.88 1318.50h12.0v12.6h-12.0zM1312.42 1318.50h12.0v12.6h-12.0zM1327.96 1318.50h12.0v12.6h-12.0zM1343.50 1318.50h12.0v12.6h-12.0zM1359.04 1318.50h12.0v12.6h-12.0zM1374.58 1318.50h12.0v12.6h-12.0zM1390.12 1318.50h12.0v12.6h-12.0zM1405.66 1318.50h12.0v12.6h-12.0zM1421.20 1318.50h12.0v12.6h-12.0zM1436.74 1318.50h12.0v12.6h-12.0zM1452.28 1318.50h12.0v12.6h-12.0zM1467.82 1318.50h12.0v12.6h-12.0zM1483.36 1315.52h12.0v12.6h-12.0zM1498.90 1315.52h12.0v12.6h-12.0zM1514.44 1315.52h12.0v12.6h-12.0zM1529.98 1315.52h12.0v12.6h-12.0zM1545.52 1212.23h12.0v12.6h-12.0zM1561.06 1212.23h12.0v12.6h-12.0zM1576.60 1212.23h12.0v12.6h-12.0zM1592.14 1212.23h12.0v12.6h-12.0zM1607.68 1318.50h12.0v12.6h-12.0zM1623.22 1318.50h12.0v12.6h-12.0zM1638.76 1318.50h12.0v12.6h-12.0zM1654.30 1318.50h12.0v12.6h-12.0z" fill="#000"/>
<path d="M230.62 1218.53L246.16 1324.80M292.78 1324.80L308.32 1269.43M308.32 1269.43L323.86 1324.80M386.02 1324.80L401.56 1241.70M401.56 1241.70L417.10 1298.98M417.10 1298.98L432.64 1324.80M727.90 1324.80L743.44 1247.44M743.44 1247.44L758.98 1234.58M790.06 1236.70L805.60 1324.80M929.92 1324.80L945.46 1267.10M945.46 1267.10L961.00 1256.79M961.00 1256.79L976.54 1324.80M1038.70 1324.80L1054.24 1285.16M1054.24 1285.16L1069.78 1324.80M1069.78 1324.80L1085.32 1266.46M1085.32 1266.46L1100.86 1324.80M1287.34 1324.80L1302.88 1285.37M1302.88 1285.37L1318.42 1324.80M1318.42 1324.80L1333.96 1249.24M1333.96 1249.24L1349.50 1291.11M1349.50 1291.11L1365.04 1324.80M1489.36 1324.80L1504.90 1287.18M1504.90 1287.18L1520.44 1324.80M1535.98 1324.80L1551.52 1218.53M1598.14 1218.53L1613.68 1324.80M1644.76 1324.80L1660.30 1299.83" stroke="#03A580" stroke-width="5.9" fill="none"/>
<path d="M177.00 1218.53a7.0 7.0 0 1 0 14.0 0a7.0 7.0 0 1 0 -14.0 0zM192.54 1218.53a7.0 7.0 0 1 0 14.0 0a7.0 7.0 0 1 0 -14.0 0zM208.08 1218.53a7.0 7.0 0 1 0 14.0 0a7.0 7.0 0 1 0 -14.0 0zM223.62 1218.53a7.0 7.0 0 1 0 14.0 0a7.0 7.0 0 1 0 -14.0 0zM239.16 1324.80a7.0 7.0 0 1 0 14.0 0a7.0 7.0 0 1 0 -14.0 0zM254.70 1324.80a7.0 7.0 0 1 0 14.0 0a7.0 7.0 0 1 0 -14.0 0zM270.24 1324.80a7.0 7.0 0 1 0 14.0 0a7.0 7.0 0 1 0 -14.0 0zM285.78 1324.80a7.0 7.0 0 1 0 14.0 0a7.0 7.0 0 1 0 -14.0 0zM301.32 1269.43a7.0 7.0 0 1 0 14.0 0a7.0 7.0 0 1 0 -14.0 0zM316.86 1324.80a7.0 7.0 0 1 0 14.0 0a7.0 7.0 0 1 0 -14.0 0zM332.40 1324.80a7.0 7.0 0 1 0 14.0 0a7.0 7.0 0 1 0 -14.0 0zM347.94 1324.80a7.0 7.0 0 1 0 14.0 0a7.0 7.0 0 1 0 -14.0 0zM363.48 1324.80a7.0 7.0 0 1 0 14.0 0a7.0 7.0 0 1 0 -14.0 0zM379.02 1324.80a7.0 7.0 0 1 0 14.0 0a7.0 7.0 0 1 0 -14.0 0zM394.56 1241.70a7.0 7.0 0 1 0 14.0 0a7.0 7.0 0 1 0 -14.0 0zM410.10 1298.98a7.0 7.0 0 1 0 14.0 0a7.0 7.0 0 1 0 -14.0 0zM425.64 1324.80a7.0 7.0 0 1 0 14.0 0a7.0 7.0 0 1 0 -14.0 0zM441.18 1324.80a7.0 7.0 0 1 0 14.0 0a7.0 7.0 0 1 0 -14.0 0zM456.72 1324.80a7.0 7.0 0 1 0 14.0 0a7.0 7.0 0 1 0 -14.0 0zM472.26 1324.80a7.0 7.0 0 1 0 14.0 0a7.0 7.0 0 1 0 -14.0 0zM487.80 1324.80a7.0 7.0 0 1 0 14.0 0a7.0 7.0 0 1 0 -14.0 0zM503.34 1324.80a7.0 7.0 0 1 0 14.0 0a7.0 7.0 0 1 0 -14.0 0zM518.88 1324.80a7.0 7.0 0 1 0 14.0 0a7.0 7.0 0 1 0 -14.0 0zM534.42 1324.80a7.0 7.0 0 1 0 14.0 0a7.0 7.0 0 1 0 -14.0 0zM549.96 1321.82a7.0 7.0 0 1 0 14.0 0a7.0 7.0 0 1 0 -14.0 0zM565.50 1324.80a7.0 7.0 0 1 0 14.0 0a7.0 7.0 0 1 0 -14.0 0zM581.04 1324.80a7.0 7.0 0 1 0 14.0 0a7.0 7.0 0 1 0 -14.0 0zM596.58 1324.80a7.0 7.0 0 1 0 14.0 0a7.0 7.0 0 1 0 -14.0 0zM612.12 1324.80a7.0 7.0 0 1 0 14.0 0a7.0 7.0 0 1 0 -14.0 0zM627.66 1324.80a7.0 7.0 0 1 0 14.0 0a7.0 7.0 0 1 0 -14.0 0zM643.20 1324.80a7.0 7.0 0 1 0 14.0 0a7.0 7.0 0 1 0 -14.0 0zM658.74 1324.80a7.0 7.0 0 1 0 14.0 0a7.0 7.0 0 1 0 -14.0 0zM674.28 1324.80a7.0 7.0 0 1 0 14.0 0a7.0 7.0 0 1 0 -14.0 0zM689.82 1324.80a7.0 7.0 0 1 0 14.0 0a7.0 7.0 0 1 0 -14.0 0zM705.36 1324.80a7.0 7.0 0 1 0 14.0 0a7.0 7.0 0 1 0 -14.0 0zM720.90 1324.80a7.0 7.0 0 1 0 14.0 0a7.0 7.0 0 1 0 -14.0 0zM736.44 1247.44a7.0 7.0 0 1 0 14.0 0a7.0 7.0 0 1 0 -14.0 0zM751.98 1234.58a7.0 7.0 0 1 0 14.0 0a7.0 7.0 0 1 0 -14.0 0zM767.52 1237.55a7.0 7.0 0 1 0 14.0 0a7.0 7.0 0 1 0 -14.0 0zM783.06 1236.70a7.0 7.0 0 1 0 14.0 0a7.0 7.0 0 1 0 -14.0 0zM798.60 1324.80a7.0 7.0 0 1 0 14.0 0a7.0 7.0 0 1 0 -14.0 0zM814.14 1324.80a7.0 7.0 0 1 0 14.0 0a7.0 7.0 0 1 0 -14.0 0zM829.68 1324.80a7.0 7.0 0 1 0 14.0 0a7.0 7.0 0 1 0 -14.0 0zM845.22 1324.80a7.0 7.0 0 1 0 14.0 0a7.0 7.0 0 1 0 -14.0 0zM860.76 1324.80a7.0 7.0 0 1 0 14.0 0a7.0 7.0 0 1 0 -14.0 0zM876.30 1324.80a7.0 7.0 0 1 0 14.0 0a7.0 7.0 0 1 0 -14.0 0zM891.84 1324.80a7.0 7.0 0 1 0 14.0 0a7.0 7.0 0 1 0 -14.0 0zM907.38 1324.80a7.0 7.0 0 1 0 14.0 0a7.0 7.0 0 1 0 -14.0 0zM922.92 1324.80a7.0 7.0 0 1 0 14.0 0a7.0 7.0 0 1 0 -14.0 0zM938.46 1267.10a7.0 7.0 0 1 0 14.0 0a7.0 7.0 0 1 0 -14.0 0zM954.00 1256.79a7.0 7.0 0 1 0 14.0 0a7.0 7.0 0 1 0 -14.0 0zM969.54 1324.80a7.0 7.0 0 1 0 14.0 0a7.0 7.0 0 1 0 -14.0 0zM985.08 1324.80a7.0 7.0 0 1 0 14.0 0a7.0 7.0 0 1 0 -14.0 0zM1000.62 1324.80a7.0 7.0 0 1 0 14.0 0a7.0 7.0 0 1 0 -14.0 0zM1016.16 1324.80a7.0 7.0 0 1 0 14.0 0a7.0 7.0 0 1 0 -14.0 0zM1031.70 1324.80a7.0 7.0 0 1 0 14.0 0a7.0 7.0 0 1 0 -14.0 0zM1047.24 1285.16a7.0 7.0 0 1 0 14.0 0a7.0 7.0 0 1 0 -14.0 0zM1062.78 1324.80a7.0 7.0 0 1 0 14.0 0a7.0 7.0 0 1 0 -14.0 0zM1078.32 1266.46a7.0 7.0 0 1 0 14.0 0a7.0 7.0 0 1 0 -14.0 0zM1093.86 1324.80a7.0 7.0 0 1 0 14.0 0a7.0 7.0 0 1 0 -14.0 0zM1109.40 1324.80a7.0 7.0 0 1 0 14.0 0a7.0 7.0 0 1 0 -14.0 0zM1124.94 1324.80a7.0 7.0 0 1 0 14.0 0a7.0 7.0 0 1 0 -14.0 0zM1140.48 1324.80a7.0 7.0 0 1 0 14.0 0a7.0 7.0 0 1 0 -14.0 0zM1156.02 1324.80a7.0 7.0 0 1 0 14.0 0a7.0 7.0 0 1 0 -14.0 0zM1171.56 1324.80a7.0 7.0 0 1 0 14.0 0a7.0 7.0 0 1 0 -14.0 0zM1187.10 1324.80a7.0 7.0 0 1 0 14.0 0a7.0 7.0 0 1 0 -14.0 0zM1202.64 1324.80a7.0 7.0 0 1 0 14.0 0a7.0 7.0 0 1 0 -14.0 0zM1218.18 1324.80a7.0 7.0 0 1 0 14.0 0a7.0 7.0 0 1 0 -14.0 0zM1233.72 1324.80a7.0 7.0 0 1 0 14.0 0a7.0 7.0 0 1 0 -14.0 0zM1249.26 1324.80a7.0 7.0 0 1 0 14.0 0a7.0 7.0 0 1 0 -14.0 0zM1264.80 1324.80a7.0 7.0 0 1 0 14.0 0a7.0 7.0 0 1 0 -14.0 0zM1280.34 1324.80a7.0 7.0 0 1 0 14.0 0a7.0 7.0 0 1 0 -14.0 0zM1295.88 1285.37a7.0 7.0 0 1 0 14.0 0a7.0 7.0 0 1 0 -14.0 0zM1311.42 1324.80a7.0 7.0 0 1 0 14.0 0a7.0 7.0 0 1 0 -14.0 0zM1326.96 1249.24a7.0 7.0 0 1 0 14.0 0a7.0 7.0 0 1 0 -14.0 0zM1342.50 1291.11a7.0 7.0 0 1 0 14.0 0a7.0 7.0 0 1 0 -14.0 0zM1358.04 1324.80a7.0 7.0 0 1 0 14.0 0a7.0 7.0 0 1 0 -14.0 0zM1373.58 1324.80a7.0 7.0 0 1 0 14.0 0a7.0 7.0 0 1 0 -14.0 0zM1389.12 1324.80a7.0 7.0 0 1 0 14.0 0a7.0 7.0 0 1 0 -14.0 0zM1404.66 1324.80a7.0 7.0 0 1 0 14.0 0a7.0 7.0 0 1 0 -14.0 0zM1420.20 1324.80a7.0 7.0 0 1 0 14.0 0a7.0 7.0 0 1 0 -14.0 0zM1435.74 1324.80a7.0 7.0 0 1 0 14.0 0a7.0 7.0 0 1 0 -14.0 0zM1451.28 1324.80a7.0 7.0 0 1 0 14.0 0a7.0 7.0 0 1 0 -14.0 0zM1466.82 1324.80a7.0 7.0 0 1 0 14.0 0a7.0 7.0 0 1 0 -14.0 0zM1482.36 1324.80a7.0 7.0 0 1 0 14.0 0a7.0 7.0 0 1 0 -14.0 0zM1497.90 1287.18a7.0 7.0 0 1 0 14.0 0a7.0 7.0 0 1 0 -14.0 0zM1513.44 1324.80a7.0 7.0 0 1 0 14.0 0a7.0 7.0 0 1 0 -14.0 0zM1528.98 1324.80a7.0 7.0 0 1 0 14.0 0a7.0 7.0 0 1 0 -14.0 0zM1544.52 1218.53a7.0 7.0 0 1 0 14.0 0a7.0 7.0 0 1 0 -14.0 0zM1560.06 1218.53a7.0 7.0 0 1 0 14.0 0a7.0 7.0 0 1 0 -14.0 0zM1575.60 1218.53a7.0 7.0 0 1 0 14.0 0a7.0 7.0 0 1 0 -14.0 0zM1591.14 1218.53a7.0 7.0 0 1 0 14.0 0a7.0 7.0 0 1 0 -14.0 0zM1606.68 1324.80a7.0 7.0 0 1 0 14.0 0a7.0 7.0 0 1 0 -14.0 0zM1622.22 1320.97a7.0 7.0 0 1 0 14.0 0a7.0 7.0 0 1 0 -14.0 0zM1637.76 1324.80a7.0 7.0 0 1 0 14.0 0a7.0 7.0 0 1 0 -14.0 0zM1653.30 1299.83a7.0 7.0 0 1 0 14.0 0a7.0 7.0 0 1 0 -14.0 0z" fill="#03A580"/>
<path d="M1225.95 1069.8H1337.65" stroke="#505050" stroke-width="5.6" stroke-linecap="round"/>
<rect x="1275.90" y="1063.40" width="12" height="12.8" fill="#000"/>
<path d="M1226.60 1136.5H1337.00" stroke="#03A580" stroke-width="6.8" stroke-linecap="round"/>
<circle cx="1281.90" cy="1136.5" r="6.9" fill="#03A580"/>
<text transform="translate(1377.33,1092.60) scale(0.9408,1)" font-size="73">Day ahead</text>
<text transform="translate(1382.91,1158.50) scale(0.9282,1)" font-size="73">Intra day</text>
<text transform="translate(272.65,1400.07) scale(0.8941,1)" font-size="70">3:00</text>
<text transform="translate(458.50,1400.07) scale(0.9019,1)" font-size="70">6:00</text>
<text transform="translate(646.07,1400.07) scale(0.8857,1)" font-size="70">9:00</text>
<text transform="translate(821.17,1400.07) scale(0.8729,1)" font-size="70">12:00</text>
<text transform="translate(1006.88,1400.07) scale(0.8716,1)" font-size="70">15:00</text>
<text transform="translate(1193.88,1400.07) scale(0.8723,1)" font-size="70">18:00</text>
<text transform="translate(1376.26,1400.07) scale(0.9049,1)" font-size="70">21:00</text>
<text transform="translate(1562.89,1400.07) scale(0.8964,1)" font-size="70">24:00</text>
<text transform="translate(829.07,1496.90) scale(0.8990,1)" font-size="85">Time (h)</text>
<text transform="translate(63.8,940.22) rotate(-90) scale(1.0631,1)" font-size="78">Power (MW)</text>
</g></svg>
</body></html>
